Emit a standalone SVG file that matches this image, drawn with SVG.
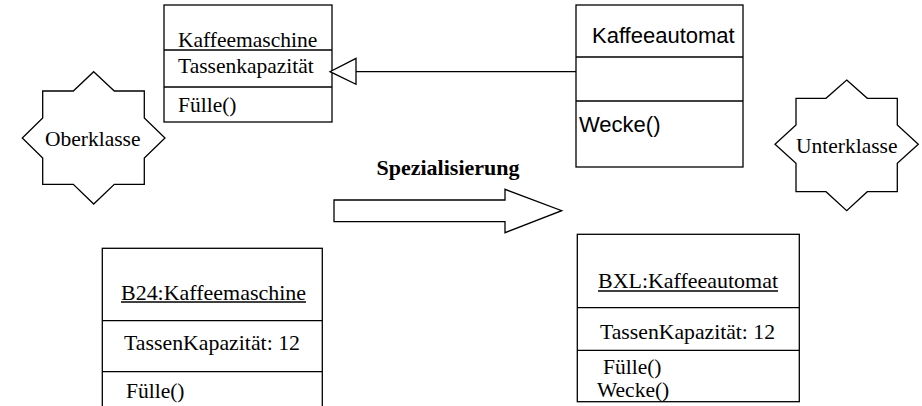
<svg xmlns="http://www.w3.org/2000/svg" width="922" height="406" viewBox="0 0 922 406">
<style>
.box{fill:#fff;stroke:#000;stroke-width:1.3}
.ln{stroke:#000;stroke-width:1.3;fill:none}
.t{font-family:"Liberation Serif","Times New Roman",serif;font-size:21.5px;fill:#000}
.s{font-family:"Liberation Sans",Arial,sans-serif;font-size:22px;fill:#000}
.b{font-family:"Liberation Serif","Times New Roman",serif;font-size:22px;font-weight:bold;fill:#000}
</style>
<rect width="922" height="406" fill="#fff"/>
<g id="kaffeemaschine">
<rect class="box" x="164" y="5" width="168" height="117"/>
<line class="ln" x1="164" y1="50" x2="332" y2="50"/>
<line class="ln" x1="164" y1="87" x2="332" y2="87"/>
<text class="t" x="178" y="47">Kaffeemaschine</text>
<text class="t" x="178" y="73">Tassenkapazität</text>
<text class="t" x="178" y="112">Fülle()</text>
</g>
<g id="kaffeeautomat">
<rect class="box" x="576" y="5" width="167" height="162"/>
<line class="ln" x1="576" y1="57" x2="743" y2="57"/>
<line class="ln" x1="576" y1="101" x2="743" y2="101"/>
<text class="s" x="592" y="43">Kaffeeautomat</text>
<text class="s" x="579" y="132">Wecke()</text>
</g>
<g id="oberklasse">
<polygon class="box" points="93.7,71.7 114.3,91 144.3,91 144.3,118 165,138 144.3,158 144.3,184.3 114.3,184.3 93.7,204 73.3,184.3 42.7,184.3 42.7,158 22.3,138 42.7,118 42.7,91 73.3,91"/>
<text class="t" x="45" y="146">Oberklasse</text>
</g>
<g id="unterklasse">
<polygon class="box" points="846.7,80 867.3,98.3 897.3,98.3 897.3,125 918.3,144.3 897.3,163.3 897.3,191.7 867.3,191.7 846.7,210.7 826,191.7 796,191.7 796,163.3 775,144.3 796,125 796,98.3 826,98.3"/>
<text class="t" x="796" y="153">Unterklasse</text>
</g>
<g id="spezialisierung">
<text class="b" x="448" y="175" text-anchor="middle">Spezialisierung</text>
<polygon class="box" points="334,200 505,200 505,189.3 561.7,210.7 505,232.7 505,221.7 334,221.7"/>
</g>
<g id="b24">
<rect class="box" x="102.3" y="248.3" width="220" height="170"/>
<line class="ln" x1="102.3" y1="320.7" x2="322.3" y2="320.7"/>
<line class="ln" x1="102.3" y1="371.7" x2="322.3" y2="371.7"/>
<text class="t" x="121" y="300" textLength="185" lengthAdjust="spacingAndGlyphs">B24:Kaffeemaschine</text>
<line class="ln" x1="121" y1="302" x2="306" y2="302" stroke-width="1.6"/>
<text class="t" x="124" y="350" textLength="176" lengthAdjust="spacingAndGlyphs">TassenKapazität: 12</text>
<text class="t" x="126" y="398">Fülle()</text>
</g>
<g id="bxl">
<rect class="box" x="577.3" y="234.3" width="222" height="167.4"/>
<line class="ln" x1="577.3" y1="307.7" x2="799.3" y2="307.7"/>
<line class="ln" x1="577.3" y1="350.3" x2="799.3" y2="350.3"/>
<text class="t" x="598" y="288" textLength="180" lengthAdjust="spacingAndGlyphs">BXL:Kaffeeautomat</text>
<line class="ln" x1="598" y1="291" x2="778" y2="291" stroke-width="1.6"/>
<text class="t" x="600" y="339" textLength="175" lengthAdjust="spacingAndGlyphs">TassenKapazität: 12</text>
<text class="t" x="603" y="374">Fülle()</text>
<text class="t" x="597" y="396.5">Wecke()</text>
</g>
<g id="connectors">
<line class="ln" x1="576" y1="71.7" x2="356" y2="71.7"/>
<polygon class="box" points="356,58.3 356,84.3 330,71.7"/>
</g>
</svg>
